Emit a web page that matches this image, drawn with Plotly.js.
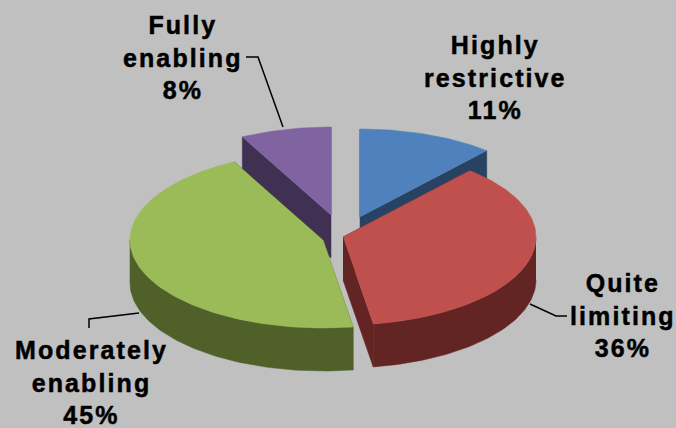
<!DOCTYPE html>
<html><head><meta charset="utf-8">
<script src="https://cdn.plot.ly/plotly-3.0.1.min.js"></script>
<style>
html,body{margin:0;padding:0;background:#c0c0c0}
.annotation-text{letter-spacing:2.1px;stroke:#000;stroke-width:0.5px}
</style></head><body>
<div id="chart" style="width:676px;height:428px"></div>
<script>
const categories = ["Highly<br>restrictive","Quite<br>limiting","Moderately<br>enabling","Fully<br>enabling"];
const shares = [11.4,36.1,44.9,7.6];
const topColors = ["#4F81BD","#C0504D","#9BBB59","#8064A2"];
const sideColors = ["#274262","#632523","#4F6128","#403152"];
const apexX = [360,343,323,331];
const apexY = [217,237,240,215];
const labelX = [495,623,91,183];
const labelY = [77,315,382,57];
const RX=193, RY=88, DEPTH=43;
const total=shares.reduce((a,b)=>a+b,0);
let cum=0;
const slices=shares.map((v,i)=>{const a0=cum/total*2*Math.PI;cum+=v;const a1=cum/total*2*Math.PI;return {i,a0,a1};});
function pt(s,t,d){return [apexX[s.i]+RX*Math.sin(t), apexY[s.i]-RY*Math.cos(t)+(d||0)];}
function arc(s,a,b,d){const n=Math.max(2,Math.ceil(Math.abs(b-a)/0.02));const o=[];for(let k=0;k<=n;k++)o.push(pt(s,a+(b-a)*k/n,d));return o;}
function poly(points,color){return {type:"scatter",mode:"lines",fill:"toself",fillcolor:color,
  line:{width:0.5,color:color},hoverinfo:"skip",showlegend:false,
  x:points.map(p=>p[0]),y:points.map(p=>p[1])};}
function sideFaces(s){
  const c=sideColors[s.i],ax=apexX[s.i],ay=apexY[s.i],out=[];
  const face=t=>{const p=pt(s,t),q=pt(s,t,DEPTH);out.push(poly([[ax,ay],p,q,[ax,ay+DEPTH]],c));};
  face(s.a0);face(s.a1);
  const lo=Math.max(s.a0,Math.PI/2),hi=Math.min(s.a1,1.5*Math.PI);
  if(hi>lo)out.push(poly(arc(s,lo,hi,0).concat(arc(s,hi,lo,DEPTH)),c));
  return out;
}
function topFace(s){return poly([[apexX[s.i],apexY[s.i]]].concat(arc(s,s.a0,s.a1,0)),topColors[s.i]);}
const order=[3,0,2,1];
const traces=[];
order.forEach(i=>{traces.push(...sideFaces(slices[i]));traces.push(topFace(slices[i]));});
const leader=d=>({type:"path",path:d,line:{color:"#000",width:1.5},layer:"above"});
const annotations=categories.map((c,i)=>({x:labelX[i],y:labelY[i],xref:"x",yref:"y",
  text:"<b>"+c+"<br>"+Math.round(shares[i])+"%</b>",showarrow:false,align:"center",xanchor:"center",yanchor:"middle",
  font:{family:"Liberation Sans",size:25,color:"#000"}}));
Plotly.newPlot("chart",traces,{
  width:676,height:428,margin:{l:0,r:0,t:0,b:0},paper_bgcolor:"#c0c0c0",plot_bgcolor:"#c0c0c0",showlegend:false,
  xaxis:{range:[0,676],visible:false,fixedrange:true},
  yaxis:{range:[428,0],visible:false,fixedrange:true},
  annotations,
  shapes:[leader("M246,57 L258,57 L283,127"),leader("M530,304 L556,316 L567,316"),leader("M139,313 L89,319 L89,328")]
},{displayModeBar:false,staticPlot:true});
</script></body></html>
